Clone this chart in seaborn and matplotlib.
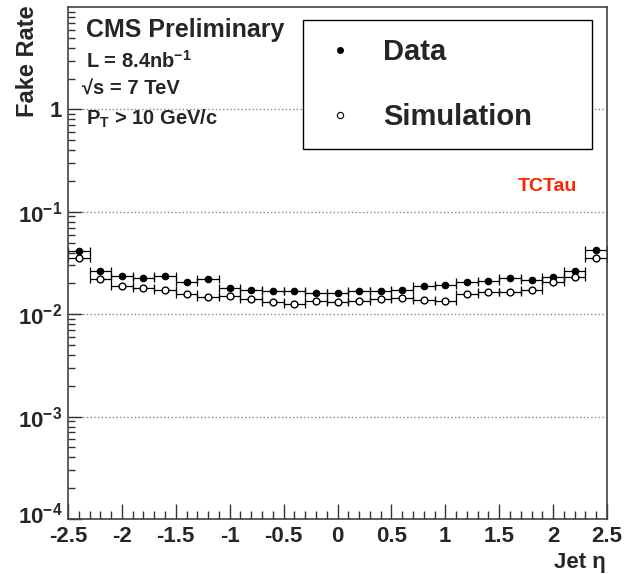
import matplotlib
matplotlib.use('Agg')
import matplotlib.pyplot as plt
from matplotlib.lines import Line2D
from matplotlib.ticker import FixedLocator, MultipleLocator, NullFormatter
from matplotlib.transforms import ScaledTranslation
import seaborn as sns
import numpy as np
import pandas as pd

# jet eta bin centres (bin width 0.2)
eta = [-2.4, -2.2, -2.0, -1.8, -1.6, -1.4, -1.2, -1.0, -0.8, -0.6, -0.4, -0.2, 0.0,
       0.2, 0.4, 0.6, 0.8, 1.0, 1.2, 1.4, 1.6, 1.8, 2.0, 2.2, 2.4]
half_width = 0.1

# fake rates
fr_data = [0.0418, 0.0264, 0.0236, 0.0227, 0.0236, 0.0207, 0.0219, 0.0179, 0.0172, 0.0167,
           0.0169, 0.0162, 0.0162, 0.0167, 0.0168, 0.0173, 0.0188, 0.0195, 0.0205, 0.0211,
           0.0227, 0.0216, 0.0232, 0.0262, 0.0424]
fr_sim = [0.0356, 0.0219, 0.0188, 0.0180, 0.0173, 0.0159, 0.0146, 0.0151, 0.0140, 0.0132,
          0.0125, 0.0136, 0.0131, 0.0134, 0.0140, 0.0143, 0.0139, 0.0134, 0.0157, 0.0166,
          0.0166, 0.0172, 0.0205, 0.0229, 0.0356]

ytick_vals = [1e-4, 1e-3, 1e-2, 1e-1, 1]
ytick_labels = [r'$10^{-4}$', r'$10^{-3}$', r'$10^{-2}$', r'$10^{-1}$', '1']
xtick_vals = [-2.5, -2, -1.5, -1, -0.5, 0, 0.5, 1, 1.5, 2, 2.5]
xtick_labels = ['-2.5', '-2', '-1.5', '-1', '-0.5', '0', '0.5', '1', '1.5', '2', '2.5']

sns.set_style('ticks')
plt.rcParams['font.family'] = ['Liberation Sans', 'DejaVu Sans']
plt.rcParams['font.weight'] = 'bold'
plt.rcParams['mathtext.fontset'] = 'custom'
plt.rcParams['mathtext.rm'] = 'Liberation Sans:bold'
plt.rcParams['mathtext.bf'] = 'Liberation Sans:bold'
plt.rcParams['mathtext.default'] = 'bf'

W, H = 625, 574
fig = plt.figure(figsize=(W / 100, H / 100), dpi=100)
ax = fig.add_axes([68 / W, 1 - 519 / H, 539 / W, 512 / H])

df = pd.DataFrame({'eta': eta, 'data': fr_data, 'sim': fr_sim})

# horizontal bin-width bars with end caps
for col in ['data', 'sim']:
    ax.errorbar(df['eta'], df[col], xerr=half_width, fmt='none', ecolor='black',
                elinewidth=0.9, capsize=3, capthick=0.9, zorder=2)

sns.scatterplot(data=df, x='eta', y='data', ax=ax, color='black', s=22,
                edgecolor='black', linewidth=0.8, zorder=3, legend=False)
sns.scatterplot(data=df, x='eta', y='sim', ax=ax, color='white', s=24,
                edgecolor='black', linewidth=1.0, zorder=3, legend=False)

ax.set_yscale('log')
ax.set_xlim(-2.5, 2.5)
ax.set_ylim(1e-4, 10)

ax.set_xticks(xtick_vals)
ax.set_xticklabels(xtick_labels)
ax.xaxis.set_minor_locator(MultipleLocator(0.1))

ax.yaxis.set_major_locator(FixedLocator(ytick_vals))
ax.set_yticklabels(ytick_labels)
minors = [m * 10.0 ** e for e in range(-4, 1) for m in range(2, 10)]
ax.yaxis.set_minor_locator(FixedLocator(minors))
ax.yaxis.set_minor_formatter(NullFormatter())

ax.tick_params(axis='both', which='both', direction='in', top=False, right=False,
               labelsize=16, width=1, color='#333333')
ax.tick_params(axis='x', which='major', length=11, pad=5)
ax.tick_params(axis='x', which='minor', length=6)
ax.tick_params(axis='y', which='major', length=10, pad=4)
ax.tick_params(axis='y', which='minor', length=5)

# lift the 10^-4 label a little, as ROOT does
lbl = ax.get_yticklabels()[0]
lbl.set_transform(lbl.get_transform() + ScaledTranslation(0, 4 / 72, fig.dpi_scale_trans))

ax.yaxis.grid(True, which='major', linestyle=':', color='#888888', linewidth=1)
ax.xaxis.grid(False)
for sp in ax.spines.values():
    sp.set_color('#444444')
    sp.set_linewidth(1.2)

ax.set_xlabel('')
ax.set_ylabel('')
fig.text(606 / W, 1 - 573 / H, 'Jet \u03b7', fontsize=16, fontweight='bold',
         ha='right', va='bottom')
fig.text(28 / W, 1 - 5 / H, 'Fake Rate', fontsize=17, fontweight='bold',
         rotation=90, ha='center', va='top')

fig.text(86 / W, 1 - 37 / H, 'CMS Preliminary', fontsize=18, fontweight='bold', va='baseline')
fig.text(86 / W, 1 - 68 / H, r'L = 8.4nb$^{-1}$', fontsize=14.5, fontweight='bold', va='baseline')
fig.text(82 / W, 1 - 95 / H, '\u221as = 7 TeV', fontsize=14.5, fontweight='bold', va='baseline')
fig.text(86 / W, 1 - 125 / H, r'P$_{T}$ > 10 GeV/c', fontsize=14.5, fontweight='bold', va='baseline')
fig.text(518 / W, 1 - 191 / H, 'TCTau', fontsize=14, fontweight='bold', color='#ff2200',
         va='baseline')

handles = [Line2D([], [], marker='o', ls='none', color='black', markersize=4),
           Line2D([], [], marker='o', ls='none', markerfacecolor='white',
                  markeredgecolor='black', markersize=4.5, markeredgewidth=0.8)]
leg = ax.legend(handles, ['Data', 'Simulation'], loc='upper left',
                bbox_to_anchor=(303 / W, 1 - 148 / H, 289 / W, 128 / H),
                bbox_transform=fig.transFigure, mode='expand', fontsize=21,
                frameon=True, fancybox=False, framealpha=1, edgecolor='black',
                borderpad=0.62, labelspacing=1.27, handlelength=1.3, handletextpad=0.82,
                borderaxespad=0)
leg.get_frame().set_linewidth(1)

fig.savefig('out.png', dpi=100)
